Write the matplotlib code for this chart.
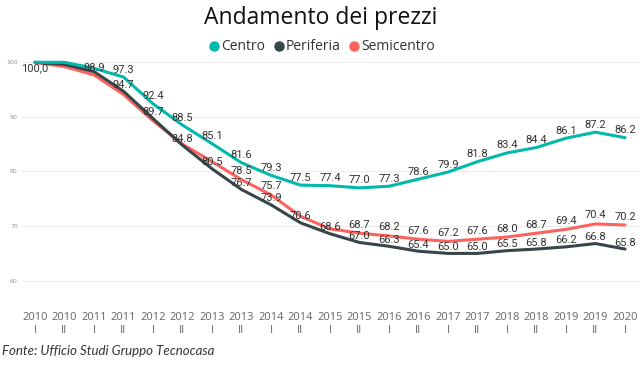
import matplotlib
matplotlib.use("Agg")
import matplotlib.pyplot as plt
from matplotlib.lines import Line2D

periods = ["2010\nI", "2010\nII", "2011\nI", "2011\nII", "2012\nI", "2012\nII", "2013\nI",
           "2013\nII", "2014\nI", "2014\nII", "2015\nI", "2015\nII", "2016\nI", "2016\nII",
           "2017\nI", "2017\nII", "2018\nI", "2018\nII", "2019\nI", "2019\nII", "2020\nI"]

centro = [100.0, 100.0, 98.9, 97.3, 92.4, 88.5, 85.1, 81.6, 79.3, 77.5, 77.4, 77.0, 77.3,
          78.6, 79.9, 81.8, 83.4, 84.4, 86.1, 87.2, 86.2]
periferia = [100.0, 99.6, 98.3, 94.7, 89.7, 84.8, 80.5, 76.7, 73.9, 70.6, 68.6, 67.0, 66.3,
             65.4, 65.0, 65.0, 65.5, 65.8, 66.2, 66.8, 65.8]
semicentro = [100.0, 99.2, 97.7, 94.1, 89.3, 85.0, 81.8, 78.5, 75.7, 71.8, 69.5, 68.7, 68.2,
              67.6, 67.2, 67.6, 68.0, 68.7, 69.4, 70.4, 70.2]

# indices whose data labels are visible in the reference (others hidden by overlap)
centro_labeled = [0, 2, 3, 4, 5, 6, 7, 8, 9, 10, 11, 12, 13, 14, 15, 16, 17, 18, 19, 20]
periferia_labeled = [3, 4, 5, 6, 7, 8, 9, 10, 11, 12, 13, 14, 15, 16, 17, 18, 19, 20]
semicentro_labeled = [7, 8, 11, 12, 13, 14, 15, 16, 17, 18, 19, 20]

series_names = ["Centro", "Periferia", "Semicentro"]
colors = ["#01B8AA", "#374649", "#FD625E"]

W, H = 642, 366
fig = plt.figure(figsize=(W / 100, H / 100), dpi=100)
fig.patch.set_facecolor("white")

left_px, right_px, top_px, bottom_px = 22, 640, 60, 295
ax = fig.add_axes([left_px / W, 1 - bottom_px / H, (right_px - left_px) / W, (bottom_px - top_px) / H])

x = list(range(len(periods)))
ppu = 5.46
ax.set_ylim(100 - (bottom_px - 62.3) / ppu, 100 + (62.3 - top_px) / ppu)
ax.set_xlim(-13 / 29.5, 20 + 15 / 29.5)

for vals, c, z in [(semicentro, colors[2], 3), (periferia, colors[1], 4), (centro, colors[0], 5)]:
    ax.plot(x, vals, color=c, lw=2.2, solid_joinstyle="round", solid_capstyle="round", zorder=z, clip_on=False)

label_font = dict(family="Roboto", size=8, color="#333333")
top_limit = 99.0

def add_labels(vals, idxs, off_px, text_override=None):
    for i in idxs:
        v = vals[i]
        txt = f"{v:.1f}"
        if text_override and i in text_override:
            txt = text_override[i]
        yv = v + off_px / ppu
        if yv > top_limit:
            yv = top_limit
        ax.text(i, yv, txt, ha="center", va="center", zorder=10, **label_font)

add_labels(centro, centro_labeled, 7.5, {0: "100,0"})
add_labels(periferia, periferia_labeled, 6.5)
add_labels(semicentro, semicentro_labeled, 8.5)

ax.set_yticks([60, 70, 80, 90, 100])
ax.set_yticklabels(["60", "70", "80", "90", "100"])
ax.tick_params(axis="y", length=0, labelsize=4.5, labelcolor="#9a9a9a", pad=3)
ax.grid(axis="y", color="#eeeeee", lw=0.8)
ax.set_axisbelow(True)

ax.set_xticks(x)
ax.set_xticklabels(periods, fontsize=8, color="#666666", linespacing=1.35, family="Open Sans")
ax.tick_params(axis="x", length=0, pad=12)
for s in ax.spines.values():
    s.set_visible(False)

fig.text(321 / W, 1 - 18 / H, "Andamento dei prezzi", ha="center", va="center",
         fontsize=16.5, family="Open Sans", color="#111111")

handles = [Line2D([], [], marker="o", linestyle="none", markersize=6.5, markerfacecolor=c,
                  markeredgecolor=c) for c in colors]
fig.legend(handles, series_names, loc="center", bbox_to_anchor=(321 / W, 1 - 47 / H),
           ncol=3, frameon=False, handletextpad=0.0, columnspacing=0.5, handlelength=1.0,
           prop=dict(family="Open Sans", size=10), labelcolor="#333333")

fig.text(2 / W, 1 - 351 / H, "Fonte: Ufficio Studi Gruppo Tecnocasa", ha="left", va="center",
         fontsize=9.5, family="Lato", style="italic", color="#333333")

fig.savefig("out.png", dpi=100)
